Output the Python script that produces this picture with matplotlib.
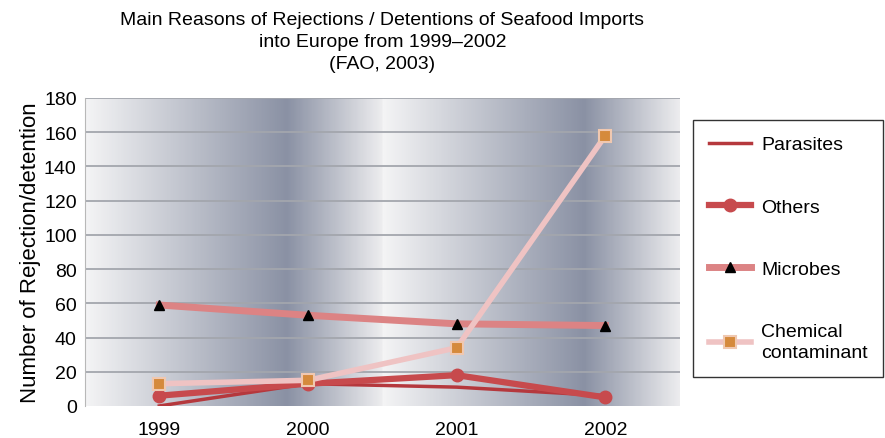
import matplotlib
matplotlib.use('Agg')
import matplotlib.pyplot as plt
import numpy as np
from matplotlib.colors import LinearSegmentedColormap

plt.rcParams['font.family'] = ['Liberation Sans', 'DejaVu Sans']

years = ['1999', '2000', '2001', '2002']
parasites = [0, 13, 11, 6]
others = [6, 13, 18, 5]
microbes = [59, 53, 48, 47]
chemical = [13, 15, 34, 158]
yticks = list(range(0, 181, 20))

fig = plt.figure(figsize=(8.85, 4.39), dpi=100)
ax = fig.add_axes([0.096, 0.073, 0.672, 0.7015])

x = np.arange(len(years))
ax.set_xlim(-0.5, 3.5)
ax.set_ylim(0, 180)

# banded grey-blue background, two light->dark->light sweeps across the plot
cmap = LinearSegmentedColormap.from_list('band', [(0.0, '#f4f4f5'), (0.68, '#8a91a4'), (1.0, '#ececee')])
t = np.linspace(0, 1, 300)
grad = np.concatenate([t, t])[np.newaxis, :]
ax.imshow(grad, cmap=cmap, aspect='auto', extent=(-0.5, 3.5, 0, 180), zorder=0, interpolation='bilinear')

for yv in yticks[1:]:
    ax.axhline(yv, color='#a3a6ad', lw=1.3, zorder=1)

ax.plot(x, parasites, color='#b5383d', lw=2.5, label='Parasites', zorder=3)
ax.plot(x, others, color='#c74a4d', lw=4.5, marker='o', ms=9, label='Others', zorder=3)
ax.plot(x, microbes, color='#dc8384', lw=5, marker='^', ms=7, mfc='black', mec='black', label='Microbes', zorder=3)
ax.plot(x, chemical, color='#efc3c3', lw=4, marker='s', ms=8, mfc='#d58a3c', mec='#f0c8b0', mew=1.5,
        label='Chemical\ncontaminant', zorder=4)

ax.set_xticks(x)
ax.set_xticklabels(years, fontsize=14)
ax.set_yticks(yticks)
ax.tick_params(axis='y', labelsize=14, length=0, pad=6)
ax.tick_params(axis='x', length=0, pad=11)
for s in ['top', 'right', 'bottom']:
    ax.spines[s].set_visible(False)
ax.spines['left'].set_color('#b8b8b8')
ax.set_ylabel('Number of Rejection/detention', fontsize=16, labelpad=2)

fig.text(0.432, 0.973, 'Main Reasons of Rejections / Detentions of Seafood Imports\ninto Europe from 1999\u20132002\n(FAO, 2003)',
         ha='center', va='top', fontsize=14, linespacing=1.4)

leg = fig.legend(loc='upper left', bbox_to_anchor=(0.783, 0.724), borderaxespad=0, fontsize=14,
                 frameon=True, fancybox=False, edgecolor='black', handlelength=2.2, labelspacing=2.3,
                 borderpad=0.8, handletextpad=0.5)
leg.get_frame().set_linewidth(1.0)
leg.get_texts()[3].set_linespacing(1.35)

fig.savefig('out.png', dpi=100)
